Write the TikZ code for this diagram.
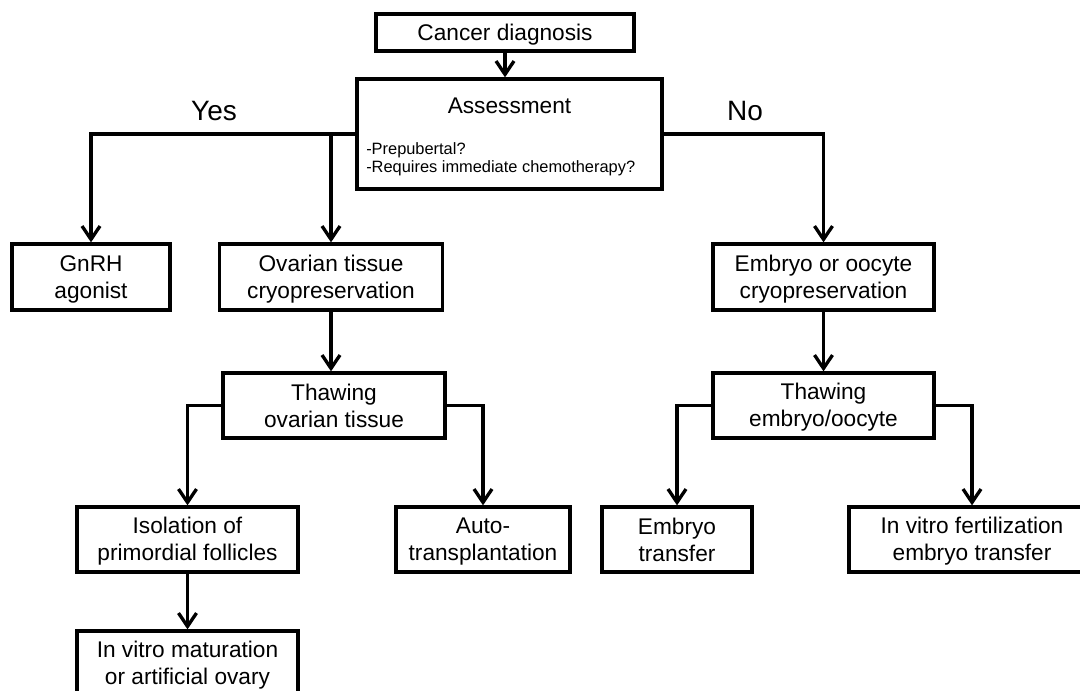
\documentclass[tikz,border=0pt]{standalone}
\usepackage{fontspec}
\setmainfont{Liberation Sans}
\usetikzlibrary{arrows.meta}
\newcommand{\boxtext}[2]{\rule{0pt}{15pt}#1\\#2\rule[-3pt]{0pt}{3pt}}
\begin{document}
\begin{tikzpicture}[x=0.75pt, y=-0.75pt,
		box/.style={draw, line width=2.5pt, align=center, inner sep=0pt, minimum height=48.75pt, font=\fontsize{17}{20.25}\selectfont},
		arr/.style={line width=2.5pt, -{Straight Barb[length=10pt, width=13.5pt]}},
		yesno/.style={anchor=base, font=\fontsize{21}{24}\selectfont},
		note/.style={anchor=base west, inner sep=0pt, font=\fontsize{12.3}{13.5}\selectfont}]
	\useasboundingbox (0,0) rectangle (1080,690);
	\clip (0,0) rectangle (1080,690); % last boxes run off the page
	% top
	\node[box, minimum width=193.5pt, minimum height=27.75pt] (cancer) at (505,32.5) {\rule{0pt}{15pt}Cancer diagnosis\rule[-3pt]{0pt}{3pt}};
	\node[box, minimum width=228.75pt, minimum height=82.5pt] (assess) at (509.5,134) {};
	\node[anchor=base, inner sep=0pt, font=\fontsize{17}{20.25}\selectfont] (asstitle) at (509.5,113) {Assessment};
	\node[note] (prepub) at (366,154) {-Prepubertal?};
	\node[note] (chemo) at (366,172) {-Requires immediate chemotherapy?};
	\node[yesno] (yes) at (214,120) {Yes};
	\node[yesno] (no) at (745,120) {No};
	% second row
	\node[box, minimum width=118.5pt, minimum height=49.5pt] (gnrh) at (91,277) {\boxtext{GnRH}{agonist}};
	\node[box, minimum width=167.25pt, minimum height=49.5pt] (ovarian) at (331,277) {\boxtext{Ovarian tissue}{cryopreservation}};
	\node[box, minimum width=165.75pt, minimum height=49.5pt] (embcryo) at (823.5,277) {\boxtext{Embryo or oocyte}{cryopreservation}};
	% thawing
	\node[box, minimum width=166.5pt] (thawov) at (334,405.5) {\boxtext{Thawing}{ovarian tissue}};
	\node[box, minimum width=165.75pt] (thawemb) at (823.5,405.5) {\boxtext{Thawing}{embryo/oocyte}};
	% outcomes
	\node[box, minimum width=165.75pt] (isol) at (187.5,539.5) {\boxtext{Isolation of}{primordial follicles}};
	\node[box, minimum width=130.5pt] (auto) at (483,539.5) {\boxtext{Auto-}{transplantation}};
	\node[box, minimum width=112.5pt] (embtr) at (677,539.5) {\boxtext{Embryo}{transfer}};
	\node[box, minimum width=184.5pt] (ivf) at (972,539.5) {\boxtext{In vitro fertilization}{embryo transfer}};
	\node[box, minimum width=165.75pt] (ivm) at (187.5,663.5) {\boxtext{In vitro maturation}{or artificial ovary}};
	% connectors
	\draw[arr] (cancer.south) -- (cancer.south |- assess.north);
	\draw[arr] (assess.west) -| (gnrh.north);
	\draw[arr] (assess.west -| ovarian.north) -- (ovarian.north);
	\draw[arr] (assess.east) -| (embcryo.north);
	\draw[arr] (ovarian.south) -- (ovarian.south |- thawov.north);
	\draw[arr] (embcryo.south) -- (thawemb.north);
	\draw[arr] (thawov.west) -| (isol.north);
	\draw[arr] (thawov.east) -| (auto.north);
	\draw[arr] (thawemb.west) -| (embtr.north);
	\draw[arr] (thawemb.east) -| (ivf.north);
	\draw[arr] (isol.south) -- (ivm.north);
\end{tikzpicture}
\end{document}
